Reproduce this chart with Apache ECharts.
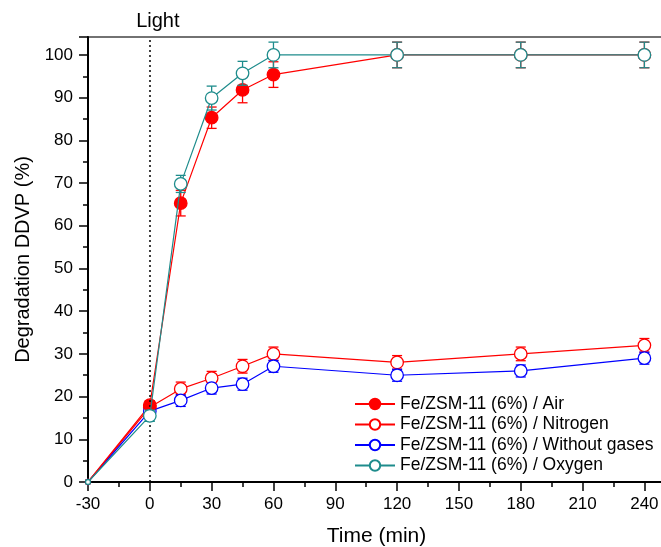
<!DOCTYPE html>
<html><head><meta charset="utf-8">
<script src="https://cdn.jsdelivr.net/npm/echarts@6/dist/echarts.min.js"></script>
<style>html,body{margin:0;padding:0;background:#fff}#c{width:661px;height:547px}</style>
</head><body><div id="c"></div><script>
const times = [-30, 0, 15, 30, 45, 60, 120, 180, 240];
const airVals = [0, 18, 65.3, 85.3, 91.8, 95.4, 100, 100, 100];
const airErr = [0, 1, 3, 2.5, 3, 3, 3, 3, 3];
const nitrogenVals = [0, 17.5, 21.8, 24.3, 27.1, 30, 28, 30, 32];
const nitrogenErr = [0, 1.4, 1.6, 1.6, 1.6, 1.6, 1.6, 1.6, 1.6];
const withoutVals = [0, 16.6, 19.1, 22, 22.9, 27.1, 25, 26, 29];
const withoutErr = [0, 1.3, 1.4, 1.4, 1.4, 1.4, 1.4, 1.4, 1.4];
const oxygenVals = [0, 15.5, 69.8, 89.9, 95.7, 100, 100, 100, 100];
const oxygenErr = [0, 1.3, 2, 2.8, 2.8, 3, 3, 3, 3];
const names = ['Fe/ZSM-11 (6%) / Air', 'Fe/ZSM-11 (6%) / Nitrogen', 'Fe/ZSM-11 (6%) / Without gases', 'Fe/ZSM-11 (6%) / Oxygen'];
const xTicks = [-30, 0, 30, 60, 90, 120, 150, 180, 210, 240];
const yTicks = [0, 10, 20, 30, 40, 50, 60, 70, 80, 90, 100];

const FONT = 'Liberation Sans';
const pairs = v => times.map((t, i) => [t, v[i]]);
const errData = (v, e) => times.map((t, i) => [t, v[i], e[i]]);

function lineSeries(name, vals, color, filled, z) {
  return {
    name, type: 'line', data: pairs(vals), z,
    symbol: 'circle',
    symbolSize: (v) => v[0] === -30 ? 5 : 12.5,
    itemStyle: { color: filled ? color : '#fff', borderColor: color, borderWidth: 1.3 },
    lineStyle: { color, width: 1.2 },
    emphasis: { disabled: true }
  };
}
function errSeries(vals, errs, color, z) {
  return {
    type: 'custom', data: errData(vals, errs), z, silent: true,
    renderItem: (params, api) => {
      const x = api.value(0), y = api.value(1), e = api.value(2);
      if (!e) return null;
      const lo = api.coord([x, y - e]), hi = api.coord([x, y + e]);
      const w = 5;
      const st = { stroke: color, lineWidth: 1.3 };
      return { type: 'group', children: [
        { type: 'line', shape: { x1: lo[0], y1: lo[1], x2: hi[0], y2: hi[1] }, style: st },
        { type: 'line', shape: { x1: lo[0] - w, y1: lo[1], x2: lo[0] + w, y2: lo[1] }, style: st },
        { type: 'line', shape: { x1: hi[0] - w, y1: hi[1], x2: hi[0] + w, y2: hi[1] }, style: st }
      ]};
    }
  };
}

const RED = '#ff0000', BLUE = '#0000ff', TEAL = '#1e8c8c';
const chart = echarts.init(document.getElementById('c'));
chart.setOption({
  animation: false,
  grid: { left: 88, top: 37, width: 577, height: 445, outerBoundsMode: 'none', containLabel: false,
    show: true, borderColor: '#444', borderWidth: 1.5, backgroundColor: 'transparent' },
  xAxis: {
    type: 'value', min: -30, max: 250, interval: 30,
    name: 'Time (min)', nameLocation: 'middle', nameGap: 44,
    nameTextStyle: { fontFamily: FONT, fontSize: 21, color: '#000' },
    axisLine: { show: true, onZero: false, lineStyle: { color: '#000', width: 2 } },
    axisTick: { show: true, length: 9, lineStyle: { color: '#000', width: 1.5 } },
    minorTick: { show: true, splitNumber: 2, length: 5, lineStyle: { color: '#000', width: 1.5 } },
    splitLine: { show: false },
    axisLabel: { fontFamily: FONT, fontSize: 17, color: '#000', margin: 14,
      formatter: v => xTicks.includes(v) ? String(v) : '' }
  },
  yAxis: {
    type: 'value', min: 0, max: 104.2, interval: 10,
    name: 'Degradation DDVP (%)', nameLocation: 'middle', nameGap: 55,
    nameTextStyle: { fontFamily: FONT, fontSize: 20, color: '#000' },
    axisLine: { show: true, onZero: false, lineStyle: { color: '#000', width: 2 } },
    axisTick: { show: true, length: 9, lineStyle: { color: '#000', width: 1.5 } },
    minorTick: { show: true, splitNumber: 2, length: 5, lineStyle: { color: '#000', width: 1.5 } },
    splitLine: { show: false },
    axisLabel: { fontFamily: FONT, fontSize: 17, color: '#000', margin: 15,
      formatter: v => yTicks.includes(v) ? String(v) : '' }
  },
  legend: {
    data: names, orient: 'vertical', left: 349, top: 390, itemGap: 2.5,
    itemWidth: 40, itemHeight: 13,
    textStyle: { fontFamily: FONT, fontSize: 17.5, color: '#000' }
  },
  series: [
    errSeries(nitrogenVals, nitrogenErr, RED, 2),
    errSeries(withoutVals, withoutErr, BLUE, 2),
    errSeries(airVals, airErr, RED, 2),
    errSeries(oxygenVals, oxygenErr, TEAL, 4),
    lineSeries(names[1], nitrogenVals, RED, false, 3),
    lineSeries(names[2], withoutVals, BLUE, false, 3),
    lineSeries(names[0], airVals, RED, true, 3),
    Object.assign(lineSeries(names[3], oxygenVals, TEAL, false, 5), {
      markLine: {
        silent: true, symbol: 'none',
        lineStyle: { color: '#000', type: [2, 3], width: 1.5 },
        label: { show: true, position: 'end', formatter: 'Light', fontFamily: FONT, fontSize: 20, color: '#000', distance: 6, padding: [0, 0, 0, 16] },
        data: [{ xAxis: 0 }]
      }
    })
  ]
});
</script></body></html>
